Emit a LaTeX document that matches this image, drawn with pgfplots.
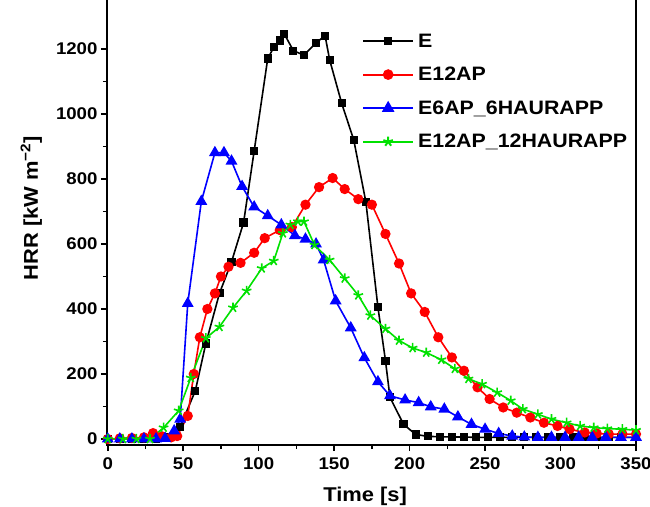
\documentclass[border=0pt]{standalone}
\usepackage{fontspec}
\setmainfont[FakeStretch=1.1]{Liberation Sans}
\usepackage{pgfplots}
\pgfplotsset{compat=1.18}
\definecolor{cgreen}{RGB}{0,225,0}
\begin{document}
\begin{tikzpicture}
\begin{axis}[
  scale only axis,
  width=529bp, height=447bp,
  xmin=-0.5, xmax=350, ymin=-18.5, ymax=1357,
  xtick={0,50,...,350}, ytick={0,200,...,1200},
  minor x tick num=1, minor y tick num=1,
  xtick pos=bottom, ytick pos=left,
  tick align=outside,
  major tick length=6bp, minor tick length=4bp,
  tick style={line width=1.5bp, black},
  axis line style={line width=2bp},
  /pgf/number format/assume math mode=true,
  /pgf/number format/1000 sep={},
  ticklabel style={font=\bfseries\fontsize{17}{17}\selectfont},
  xticklabel style={yshift=-3bp},
  xlabel={Time [s]}, ylabel={HRR [kW m\textsuperscript{−2}]},
  label style={font=\bfseries\fontsize{20}{20}\selectfont},
  xlabel style={at={(axis description cs:0.488,-0.114)}, anchor=center},
  ylabel style={at={(axis description cs:-0.143,0.53)}, anchor=center},
  legend style={at={(rel axis cs:0.482,0.925)}, anchor=north west, draw=none, fill=none,
    font=\bfseries\fontsize{19.5}{19.5}\selectfont, row sep=14.5bp, inner sep=0pt,
    nodes={inner xsep=4bp}},
  legend cell align=left,
  legend image post style={line width=2bp},
  legend image code/.code={\draw[line width=2bp, mark repeat=2,mark phase=2] plot coordinates {(0bp,0bp) (25bp,0bp) (50bp,0bp)};},
]
\addplot[black, line width=1.6bp, mark=square*, mark size=3.3bp, mark options={solid}] coordinates {
(0,0)(8,0)(16,0)(24,0)(32,1)(40,6)(48,38)(58,148)(65,294)(74,448)(82,545)(90,666)(97,886)(106,1171)(110,1205)(114,1226)(117,1246)(123,1195)(130,1181)(138,1219)(144,1241)(147,1167)(155,1033)(163,920)(171,730)(179,406)(184,241)(187,128)(196,45)(204,14)(212,8)(220,7)(228,6)(236,6)(244,5)(252,5)(260,5)(268,5)(276,5)(284,5)(292,5)(300,5)(308,5)(316,5)(324,5)(332,5)(340,5)(350,5)
};
\addlegendentry{E}
\addplot[red, line width=1.6bp, mark=*, mark size=4.3bp, mark options={solid}] coordinates {
(0,0)(8,2)(16,3)(24,5)(30,18)(36,8)(42,5)(46,9)(53,71)(57,200)(61,313)(66,400)(71,448)(75,500)(80,530)(88,542)(97,573)(104,618)(114,643)(122,652)(131,721)(140,775)(149,803)(157,769)(166,738)(175,721)(184,631)(193,540)(201,448)(210,391)(219,313)(228,251)(236,210)(245,159)(253,123)(262,97)(271,81)(280,66)(289,50)(298,40)(306,30)(316,20)(324,17)(332,15)(341,15)(350,15)
};
\addlegendentry{E12AP}
\addplot[blue, line width=1.6bp, mark=triangle*, mark size=5.3bp, mark options={solid}] coordinates {
(0,0)(8,0)(16,0)(24,0)(32,0)(38,2)(44,25)(48,61)(53,417)(62,731)(71,881)(77,881)(82,855)(89,777)(97,714)(106,687)(115,659)(124,626)(131,615)(138,600)(143,551)(151,425)(161,342)(170,250)(179,176)(187,133)(197,120)(206,112)(214,99)(223,92)(232,68)(241,45)(250,30)(259,17)(268,9)(276,6)(285,5)(294,5)(303,5)(312,5)(321,5)(330,5)(340,5)(350,5)
};
\addlegendentry{E6AP\_6HAURAPP}
\addplot[cgreen, line width=1.6bp, mark=star, mark size=5bp, mark options={solid}] coordinates {
(0,0)(10,0)(19,0)(28,0)(37,35)(47,87)(55,188)(65,310)(74,345)(83,404)(92,456)(102,525)(110,548)(116,633)(121,659)(126,669)(130,669)(137,597)(147,551)(157,494)(166,442)(174,380)(184,339)(193,303)(202,280)(211,266)(221,244)(230,216)(239,185)(248,169)(258,143)(267,118)(275,92)(285,76)(294,61)(304,50)(313,40)(322,35)(331,32)(341,30)(350,27)
};
\addlegendentry{E12AP\_12HAURAPP}
\end{axis}
\pgfresetboundingbox
\useasboundingbox (-107bp,-62bp) rectangle (543bp,445bp);
\end{tikzpicture}
\end{document}
